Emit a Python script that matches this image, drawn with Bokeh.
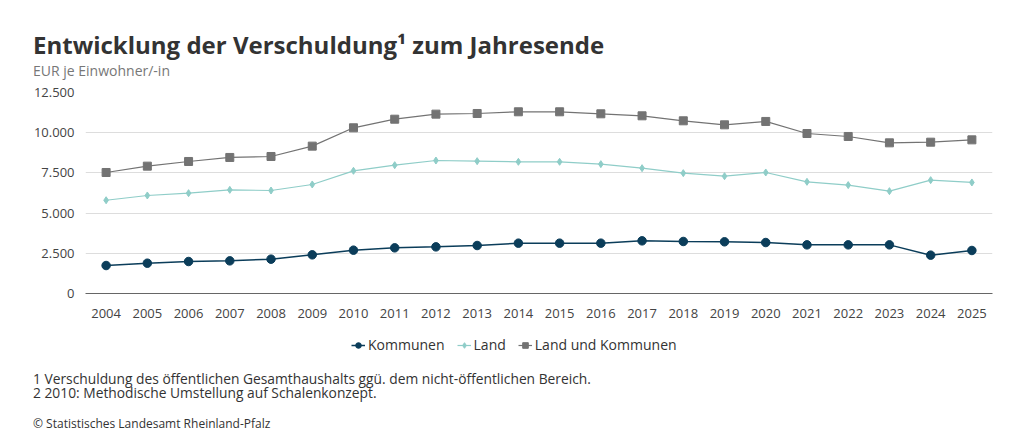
from bokeh.plotting import figure
from bokeh.layouts import column
from bokeh.models import Legend, LegendItem, Range1d, FactorRange, CustomJSTickFormatter, FixedTicker, Div
from bokeh.embed import file_html
from bokeh.resources import INLINE

years = [str(y) for y in range(2004, 2026)]
kommunen = [1740, 1885, 1990, 2030, 2135, 2405, 2695, 2840, 2900, 2985, 3130,
            3130, 3130, 3275, 3235, 3215, 3170, 3025, 3025, 3025, 2385, 2675]
land = [5800, 6095, 6240, 6445, 6405, 6780, 7630, 7980, 8270, 8230, 8190,
        8190, 8045, 7795, 7485, 7295, 7525, 6945, 6740, 6365, 7050, 6905]
land_kommunen = [7525, 7920, 8210, 8460, 8520, 9165, 10305, 10840, 11155, 11195, 11300,
                 11300, 11175, 11050, 10740, 10490, 10700, 9950, 9765, 9370, 9410, 9555]
y_ticks = [0, 2500, 5000, 7500, 10000, 12500]
series_names = ["Kommunen", "Land", "Land und Kommunen"]

title_text = "Entwicklung der Verschuldung\u00b9 zum Jahresende"
subtitle_text = "EUR je Einwohner/-in"
foot1 = "1 Verschuldung des öffentlichen Gesamthaushalts ggü. dem nicht-öffentlichen Bereich."
foot2 = "2 2010: Methodische Umstellung auf Schalenkonzept."
source_text = "© Statistisches Landesamt Rheinland-Pfalz"

FONT = "Open Sans"
W = 1024
TOP_H, FIG_H, LEG_H, BOT_H = 84, 246, 35, 72

top_div = Div(width=W, height=TOP_H, margin=0, text=(
    f'<div style="margin:0;padding:30px 0 0 33px;font-family:\'{FONT}\';white-space:nowrap">'
    f'<div style="font-weight:bold;font-size:24px;line-height:30px;color:#333333">{title_text}</div>'
    f'<div style="font-size:14px;line-height:22px;color:#777777">{subtitle_text}</div>'
    '</div>'))

bot_div = Div(width=W, height=BOT_H, margin=0, text=(
    f'<div style="margin:0;padding:7px 0 0 33px;font-family:\'{FONT}\';white-space:nowrap;color:#333333">'
    f'<div style="font-size:13.8px;line-height:14px">{foot1}</div>'
    f'<div style="font-size:13.8px;line-height:14px">{foot2}</div>'
    f'<div style="font-size:12px;line-height:14px;margin-top:17px">{source_text}</div>'
    '</div>'))

p = figure(width=W, height=FIG_H, x_range=FactorRange(*years), y_range=Range1d(0, 12500),
           output_backend="svg", toolbar_location=None,
           min_border_left=85, min_border_right=32, min_border_top=8, min_border_bottom=37)
p.outline_line_color = None
p.background_fill_color = "white"
p.border_fill_color = "white"

c_k, c_l, c_lk = "#0b3d5a", "#8fcdc8", "#737373"
styles = [dict(color=c_k, lw=1.5, marker="circle", size=8.5),
          dict(color=c_l, lw=1.2, marker="diamond", size=7),
          dict(color=c_lk, lw=1.2, marker="square", size=8)]
all_series = [kommunen, land, land_kommunen]
for vals, st in zip(all_series, styles):
    p.line(years, vals, line_color=st["color"], line_width=st["lw"])
    p.scatter(years, vals, marker=st["marker"], size=st["size"], color=st["color"])

p.xgrid.grid_line_color = None
p.ygrid.grid_line_color = "#dddddd"
p.ygrid.ticker = FixedTicker(ticks=y_ticks)

p.yaxis.ticker = FixedTicker(ticks=y_ticks)
p.yaxis.formatter = CustomJSTickFormatter(code="return Math.round(tick).toString().replace(/\\B(?=(\\d{3})+(?!\\d))/g, '.');")
p.yaxis.axis_line_color = None
p.yaxis.major_tick_line_color = None
p.yaxis.minor_tick_line_color = None
p.yaxis.major_label_standoff = 5
p.yaxis.major_label_text_font = FONT
p.yaxis.major_label_text_font_size = "13px"
p.yaxis.major_label_text_color = "#444444"

p.xaxis.axis_line_color = "#666666"
p.xaxis.axis_line_width = 1
p.xaxis.major_tick_line_color = None
p.xaxis.minor_tick_line_color = None
p.xaxis.major_label_standoff = 9
p.xaxis.major_label_text_font = FONT
p.xaxis.major_label_text_font_size = "13px"
p.xaxis.major_label_text_color = "#444444"

# legend strip: a separate figure whose frame fills the whole strip;
# its renderers hold the series data but lie outside the strip's ranges
year_nums = [int(y) for y in years]
lf = figure(width=W, height=LEG_H, x_range=Range1d(0, 1), y_range=Range1d(0, 1),
            output_backend="svg", toolbar_location=None, x_axis_type=None, y_axis_type=None,
            min_border=0, min_border_left=0, min_border_right=0, min_border_top=0, min_border_bottom=0)
lf.outline_line_color = None
lf.grid.grid_line_color = None
items = []
for name, vals, st in zip(series_names, all_series, styles):
    r1 = lf.line(year_nums, vals, line_color=st["color"], line_width=st["lw"])
    r2 = lf.scatter(year_nums, vals, marker=st["marker"], size=st["size"], color=st["color"])
    items.append(LegendItem(label=name, renderers=[r1, r2]))
legend = Legend(items=items, location=(266, 11), orientation="horizontal",
                glyph_width=14, glyph_height=14, label_height=14, label_standoff=3, spacing=12,
                padding=0, margin=0, border_line_color=None, background_fill_alpha=0,
                label_text_font=FONT, label_text_font_size="14px", label_text_color="#333333")
lf.add_layout(legend)

layout = column(top_div, p, lf, bot_div, spacing=0)
open("out.html", "w").write(file_html(layout, INLINE))
